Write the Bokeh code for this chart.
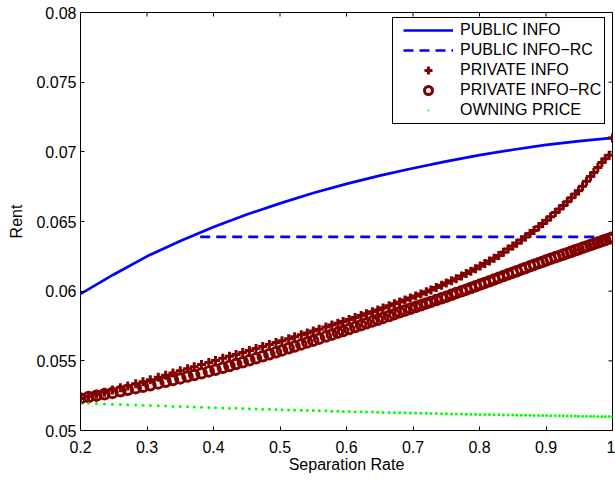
from bokeh.plotting import figure
from bokeh.models import Range1d, FixedTicker
from bokeh.embed import file_html
from bokeh.resources import INLINE
import math

# ---- tick definitions ----
x_ticks = [0.2, 0.3, 0.4, 0.5, 0.6, 0.7, 0.8, 0.9, 1.0]
x_tick_labels = ["0.2", "0.3", "0.4", "0.5", "0.6", "0.7", "0.8", "0.9", "1"]
y_ticks = [0.05, 0.055, 0.06, 0.065, 0.07, 0.075, 0.08]
y_tick_labels = ["0.05", "0.055", "0.06", "0.065", "0.07", "0.075", "0.08"]

# ---- series ----
public_x = [0.2, 0.25, 0.3, 0.35, 0.4, 0.45, 0.5, 0.55, 0.6, 0.65, 0.7, 0.75,
            0.8, 0.85, 0.9, 0.95, 1.0]
public_info = [0.0598, 0.0612, 0.0625, 0.0636, 0.0646, 0.0655, 0.0663, 0.06705,
               0.0677, 0.06829, 0.06882, 0.06932, 0.06976, 0.07015, 0.0705,
               0.07077, 0.071]

public_rc_x = [0.38, 1.0]
public_info_rc = [0.0639, 0.0639]

sep_rate = [
    0.200, 0.212, 0.224, 0.236, 0.248, 0.260, 0.271, 0.283, 0.294, 0.305,
    0.317, 0.328, 0.339, 0.350, 0.361, 0.371, 0.382, 0.393, 0.403, 0.414,
    0.424, 0.434, 0.444, 0.454, 0.464, 0.474, 0.484, 0.494, 0.503, 0.513,
    0.522, 0.532, 0.541, 0.550, 0.559, 0.569, 0.578, 0.587, 0.595, 0.604,
    0.613, 0.622, 0.630, 0.639, 0.647, 0.655, 0.664, 0.672, 0.680, 0.688,
    0.696, 0.704, 0.712, 0.720, 0.727, 0.735, 0.743, 0.750, 0.758, 0.765,
    0.773, 0.780, 0.787, 0.794, 0.801, 0.808, 0.815, 0.822, 0.829, 0.836,
    0.843, 0.850, 0.856, 0.863, 0.869, 0.876, 0.882, 0.889, 0.895, 0.901,
    0.907, 0.914, 0.920, 0.926, 0.932, 0.938, 0.944, 0.949, 0.955, 0.961,
    0.967, 0.972, 0.978, 0.984, 0.989, 0.995, 1.000]

private_info = [
    0.05230, 0.05245, 0.05260, 0.05275, 0.05290, 0.05306, 0.05320, 0.05336, 0.05350, 0.05365,
    0.05382, 0.05397, 0.05413, 0.05428, 0.05443, 0.05457, 0.05473, 0.05488, 0.05502, 0.05518,
    0.05532, 0.05546, 0.05560, 0.05574, 0.05588, 0.05603, 0.05617, 0.05631, 0.05644, 0.05659,
    0.05673, 0.05687, 0.05700, 0.05714, 0.05727, 0.05743, 0.05757, 0.05770, 0.05782, 0.05796,
    0.05811, 0.05825, 0.05838, 0.05852, 0.05865, 0.05879, 0.05895, 0.05909, 0.05923, 0.05937,
    0.05951, 0.05965, 0.05980, 0.05995, 0.06009, 0.06026, 0.06043, 0.06058, 0.06075, 0.06090,
    0.06109, 0.06126, 0.06143, 0.06161, 0.06181, 0.06198, 0.06217, 0.06236, 0.06256, 0.06279,
    0.06303, 0.06325, 0.06344, 0.06367, 0.06388, 0.06413, 0.06435, 0.06462, 0.06485, 0.06509,
    0.06534, 0.06564, 0.06589, 0.06615, 0.06642, 0.06670, 0.06697, 0.06721, 0.06753, 0.06788,
    0.06823, 0.06852, 0.06888, 0.06924, 0.06950, 0.06975, 0.07100]

private_info_rc = [
    0.05230, 0.05240, 0.05250, 0.05260, 0.05270, 0.05281, 0.05292, 0.05304, 0.05314, 0.05325,
    0.05338, 0.05350, 0.05362, 0.05374, 0.05387, 0.05398, 0.05411, 0.05424, 0.05436, 0.05450,
    0.05463, 0.05477, 0.05490, 0.05504, 0.05518, 0.05532, 0.05547, 0.05561, 0.05575, 0.05590,
    0.05603, 0.05618, 0.05632, 0.05645, 0.05659, 0.05674, 0.05688, 0.05702, 0.05714, 0.05728,
    0.05742, 0.05756, 0.05769, 0.05783, 0.05795, 0.05808, 0.05822, 0.05835, 0.05848, 0.05861,
    0.05874, 0.05886, 0.05899, 0.05912, 0.05923, 0.05936, 0.05949, 0.05960, 0.05974, 0.05986,
    0.05999, 0.06011, 0.06023, 0.06035, 0.06047, 0.06059, 0.06071, 0.06084, 0.06096, 0.06108,
    0.06121, 0.06133, 0.06143, 0.06156, 0.06166, 0.06178, 0.06189, 0.06201, 0.06211, 0.06222,
    0.06232, 0.06243, 0.06253, 0.06263, 0.06273, 0.06283, 0.06293, 0.06301, 0.06311, 0.06321,
    0.06331, 0.06339, 0.06349, 0.06359, 0.06367, 0.06377, 0.06385]

owning_price = [
    0.05197, 0.05195, 0.05193, 0.05191, 0.05189, 0.05186, 0.05185, 0.05183, 0.05181, 0.05179,
    0.05177, 0.05175, 0.05173, 0.05172, 0.05170, 0.05168, 0.05167, 0.05165, 0.05163, 0.05162,
    0.05160, 0.05159, 0.05157, 0.05156, 0.05155, 0.05153, 0.05152, 0.05150, 0.05149, 0.05148,
    0.05147, 0.05145, 0.05144, 0.05143, 0.05142, 0.05141, 0.05139, 0.05138, 0.05137, 0.05136,
    0.05135, 0.05134, 0.05133, 0.05132, 0.05131, 0.05130, 0.05129, 0.05128, 0.05127, 0.05127,
    0.05126, 0.05125, 0.05124, 0.05123, 0.05122, 0.05122, 0.05121, 0.05120, 0.05119, 0.05119,
    0.05118, 0.05117, 0.05117, 0.05116, 0.05115, 0.05115, 0.05114, 0.05113, 0.05113, 0.05112,
    0.05112, 0.05111, 0.05110, 0.05110, 0.05109, 0.05109, 0.05108, 0.05108, 0.05107, 0.05107,
    0.05106, 0.05106, 0.05105, 0.05105, 0.05104, 0.05104, 0.05104, 0.05103, 0.05103, 0.05102,
    0.05102, 0.05102, 0.05101, 0.05101, 0.05101, 0.05100, 0.05100]

FONT = "Liberation Sans"
DARK_RED = "#800000"

p = figure(width=615, height=480, output_backend="svg", toolbar_location=None,
           x_range=Range1d(x_ticks[0], x_ticks[-1]),
           y_range=Range1d(y_ticks[0], y_ticks[-1]),
           min_border_left=80, min_border_right=3, min_border_top=12,
           min_border_bottom=50)

p.background_fill_color = "white"
p.border_fill_color = "white"
p.outline_line_color = "black"
p.outline_line_width = 1
p.xgrid.visible = False
p.ygrid.visible = False

# glyphs in the original drawing order
p.line(public_x, public_info, line_color="#0000ff", line_width=2.7,
       legend_label="PUBLIC INFO")
p.line(public_rc_x, public_info_rc, line_color="#0000ff", line_width=2.7,
       line_dash="10 6", legend_label="PUBLIC INFO\u2212RC")
p.scatter(sep_rate, private_info, marker="cross", size=9, line_color=DARK_RED,
          line_width=3, legend_label="PRIVATE INFO")
p.scatter(sep_rate, private_info_rc, marker="circle", size=9.5, fill_color=None,
          line_color=DARK_RED, line_width=3, legend_label="PRIVATE INFO\u2212RC")
p.scatter(sep_rate, owning_price, marker="dot", size=12, line_color="#00ff00",
          fill_color="#00ff00", legend_label="OWNING PRICE")

# inner ticks on the top and right edges of the box (clipped to the frame)
p.scatter(x_ticks, [y_ticks[-1]] * len(x_ticks), marker="dash", angle=math.pi / 2,
          size=8, line_color="black", line_width=1)
p.scatter([x_ticks[-1]] * len(y_ticks), y_ticks, marker="dash",
          size=8, line_color="black", line_width=1)

# axes
for ax, ticks, labels in ((p.xaxis[0], x_ticks, x_tick_labels),
                          (p.yaxis[0], y_ticks, y_tick_labels)):
    ax.ticker = FixedTicker(ticks=ticks)
    ax.major_label_overrides = dict(zip(ticks, labels))
    ax.major_tick_in = 4
    ax.major_tick_out = 0
    ax.minor_tick_line_color = None
    ax.axis_line_color = "black"
    ax.major_tick_line_color = "black"
    ax.major_label_text_font = FONT
    ax.major_label_text_font_size = "16px"
    ax.major_label_text_color = "black"
    ax.axis_label_text_font = FONT
    ax.axis_label_text_font_size = "16px"
    ax.axis_label_text_font_style = "normal"
    ax.axis_label_text_color = "black"

p.xaxis.axis_label = "Separation Rate"
p.yaxis.axis_label = "Rent"
p.xaxis.major_label_standoff = 10
p.xaxis.axis_label_standoff = 0
p.yaxis.major_label_standoff = 4
p.yaxis.axis_label_standoff = 8

# legend
lg = p.legend[0]
lg.location = (312, 306)
lg.label_text_font = FONT
lg.label_text_font_size = "16px"
lg.label_text_color = "black"
lg.border_line_color = "black"
lg.border_line_width = 1
lg.border_line_alpha = 1
lg.background_fill_color = "white"
lg.background_fill_alpha = 1
lg.padding = dict(left=10, right=3, top=2, bottom=3)
lg.spacing = 0
lg.margin = 0
lg.glyph_width = 50
lg.glyph_height = 20
lg.label_height = 20
lg.label_standoff = 7

open("out.html", "w").write(file_html(p, INLINE))
